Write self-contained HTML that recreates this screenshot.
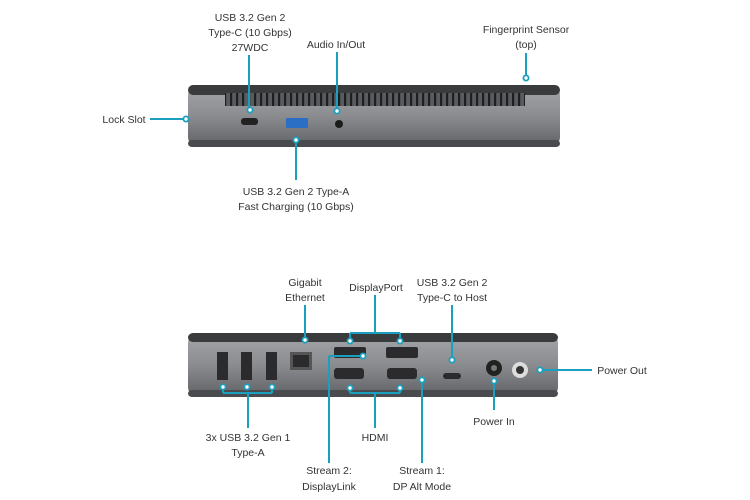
<!DOCTYPE html>
<html><head><style>body{margin:0;background:#fff}svg{display:block}text{font-family:"Liberation Sans",sans-serif;font-size:10.5px;fill:#333}</style></head>
<body>
<svg width="750" height="500" viewBox="0 0 750 500" xmlns="http://www.w3.org/2000/svg">
<defs>
<linearGradient id="b" x1="0" y1="0" x2="0" y2="1"><stop offset="0" stop-color="#a4a6a9"/><stop offset="0.5" stop-color="#8a8c90"/><stop offset="1" stop-color="#5f6164"/></linearGradient>
<pattern id="v" width="6" height="20" patternUnits="userSpaceOnUse"><rect width="6" height="20" fill="#5a5b5e"/><rect x="2" width="2.2" height="20" fill="#1e1f21"/></pattern>
</defs>
<!-- Device 1 -->
<rect x="188" y="85" width="372" height="62" rx="10" fill="url(#b)"/>
<rect x="188" y="85" width="372" height="10" rx="5" fill="#3a3b3d"/>
<rect x="225" y="93" width="300" height="13" fill="url(#v)"/>
<rect x="188" y="140" width="372" height="7" rx="4" fill="#4a4b4e"/>
<rect x="241" y="118" width="17" height="7" rx="3" fill="#222"/>
<rect x="286" y="118" width="22" height="10" rx="1" fill="#2a6fc4"/>
<circle cx="339" cy="124" r="4" fill="#1b1b1b"/>
<!-- Device 2 -->
<rect x="188" y="333" width="370" height="64" rx="10" fill="url(#b)"/>
<rect x="188" y="333" width="370" height="9" rx="5" fill="#3a3b3d"/>
<rect x="188" y="390" width="370" height="7" rx="4" fill="#4a4b4e"/>
<g fill="#2b2b2d">
<rect x="217" y="352" width="11" height="28"/><rect x="241" y="352" width="11" height="28"/><rect x="266" y="352" width="11" height="28"/>
<rect x="290" y="352" width="22" height="18" fill="#555"/><rect x="293" y="355" width="16" height="12"/>
<rect x="334" y="347" width="32" height="11" rx="2"/><rect x="386" y="347" width="32" height="11" rx="2"/>
<rect x="334" y="368" width="30" height="11" rx="3"/><rect x="387" y="368" width="30" height="11" rx="3"/>
<rect x="443" y="373" width="18" height="6" rx="3"/>
</g>
<circle cx="494" cy="368" r="8" fill="#222"/><circle cx="494" cy="368" r="3" fill="#777"/>
<circle cx="520" cy="370" r="8" fill="#ddd"/><circle cx="520" cy="370" r="4" fill="#333"/>
<!-- connectors -->
<g stroke="#1b9fbf" stroke-width="2" fill="none">
<path d="M249 55V108M337 52V109M526 53V76M150 119H184M296 142V180"/>
<path d="M305 305V338M375 295V333M350 333H400M350 333V339M400 333V339M452 305V358M542 370H592M494 383V410"/>
<path d="M223 393H272M248 393V428M223 389V393M272 389V393M350 393H400M375 393V428M350 390V393M400 390V393M329 356V463M329 356H361M422 382V463"/>
</g>
<g stroke="#1b9fbf" stroke-width="1.8" fill="#fff">
<circle cx="250" cy="110" r="2.6"/><circle cx="337" cy="111" r="2.6"/><circle cx="526" cy="78" r="2.6"/><circle cx="186" cy="119" r="2.6"/><circle cx="296" cy="140" r="2.6"/>
<circle cx="305" cy="340" r="2.6"/><circle cx="350" cy="341" r="2.6"/><circle cx="400" cy="341" r="2.6"/><circle cx="452" cy="360" r="2.6"/><circle cx="540" cy="370" r="2.6"/><circle cx="494" cy="381" r="2.6"/>
<circle cx="223" cy="387" r="2.6"/><circle cx="247" cy="387" r="2.6"/><circle cx="272" cy="387" r="2.6"/><circle cx="350" cy="388" r="2.6"/><circle cx="400" cy="388" r="2.6"/><circle cx="363" cy="356" r="2.6"/><circle cx="422" cy="380" r="2.6"/>
</g>
<g text-anchor="middle">
<text x="250" y="21">USB 3.2 Gen 2</text><text x="250" y="36">Type-C (10 Gbps)</text><text x="250" y="51">27WDC</text>
<text x="336" y="48">Audio In/Out</text>
<text x="526" y="33">Fingerprint Sensor</text><text x="526" y="48">(top)</text>
<text x="124" y="123">Lock Slot</text>
<text x="296" y="195">USB 3.2 Gen 2 Type-A</text><text x="296" y="210">Fast Charging (10 Gbps)</text>
<text x="305" y="286">Gigabit</text><text x="305" y="301">Ethernet</text>
<text x="376" y="291">DisplayPort</text>
<text x="452" y="286">USB 3.2 Gen 2</text><text x="452" y="301">Type-C to Host</text>
<text x="622" y="374">Power Out</text>
<text x="494" y="425">Power In</text>
<text x="248" y="441">3x USB 3.2 Gen 1</text><text x="248" y="456">Type-A</text>
<text x="375" y="441">HDMI</text>
<text x="329" y="474">Stream 2:</text><text x="329" y="490">DisplayLink</text>
<text x="422" y="474">Stream 1:</text><text x="422" y="490">DP Alt Mode</text>
</g>
</svg>
</body></html>
